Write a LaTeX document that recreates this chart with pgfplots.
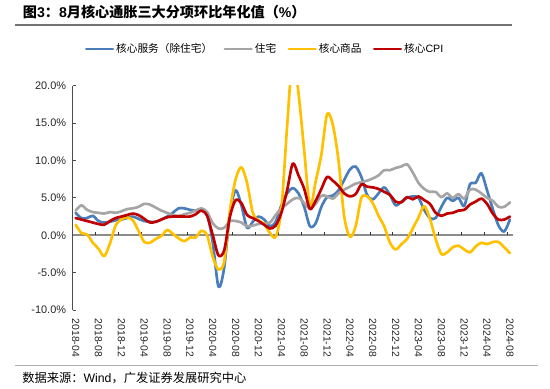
\documentclass[border=0pt]{standalone}
\usepackage{pgfplots}
\usepackage{pgfplotstable}
\pgfplotsset{compat=1.18}
\usepackage{fontspec}
\setmainfont{Liberation Sans}
\newfontfamily\cjk{Noto Sans CJK SC}

\definecolor{cblue}{HTML}{4A7EBB}
\definecolor{cgray}{HTML}{A5A5A5}
\definecolor{cyellow}{HTML}{FFC000}
\definecolor{cred}{HTML}{C00000}

\pgfplotstableread{
i serv house goods core
0 3.0 3.3 1.4 2.3
1 2.3 4.0 0.3 2.1
2 2.3 3.4 0.1 1.9
3 2.6 3.1 -1.0 1.7
4 1.9 3.0 -1.8 1.5
5 1.7 2.9 -2.8 1.4
6 1.8 3.1 -1.1 1.9
7 2.0 3.0 1.3 2.3
8 2.1 3.2 2.1 2.5
9 2.3 3.5 2.4 2.7
10 2.5 3.6 2.0 2.9
11 2.2 3.8 0.6 2.7
12 1.9 4.2 -0.9 2.2
13 1.8 4.1 -1.0 1.7
14 1.8 3.7 -0.5 1.8
15 2.1 3.3 -0.1 2.1
16 2.5 3.0 0.7 2.4
17 3.0 2.7 0.2 2.5
18 3.6 2.6 -0.4 2.5
19 3.6 2.8 -0.8 2.5
20 3.4 3.0 -0.3 2.5
21 3.3 3.3 -0.3 2.8
22 3.4 3.6 0.6 3.3
23 2.8 3.1 0.0 2.6
24 -1.0 1.6 -2.9 0.0
25 -6.9 0.9 -4.6 -2.7
26 -4.3 1.0 -3.5 -2.0
27 3.0 1.9 3.3 2.5
28 6.0 1.9 7.5 4.7
29 4.0 1.7 9.1 4.3
30 1.0 1.2 7.0 2.7
31 1.8 1.3 3.0 2.3
32 2.5 1.5 2.0 1.9
33 2.1 1.6 1.5 1.4
34 1.2 1.7 0.3 0.9
35 1.8 2.7 -0.2 1.3
36 4.0 3.6 3.5 3.0
37 5.6 4.2 14.5 6.0
38 6.3 4.8 24.0 9.6
39 5.6 5.0 19.0 8.0
40 3.8 4.3 11.3 6.2
41 1.2 3.6 3.8 3.5
42 1.6 4.2 7.2 4.6
43 3.8 5.3 10.8 6.2
44 5.1 5.2 16.2 7.8
45 5.3 4.9 14.8 7.3
46 6.0 5.6 10.0 6.6
47 7.4 6.1 2.5 5.6
48 8.8 6.5 -0.2 5.2
49 9.2 6.9 1.2 5.5
50 7.8 7.1 5.0 6.8
51 5.4 7.3 5.2 6.5
52 4.8 7.6 4.3 6.4
53 5.6 8.0 2.6 6.2
54 6.4 8.7 1.2 5.8
55 5.4 8.7 -1.0 5.4
56 4.0 9.0 -1.9 4.5
57 4.5 9.2 -1.2 4.4
58 5.0 9.5 -0.5 5.1
59 5.2 8.4 0.9 4.8
60 5.0 7.0 2.4 5.2
61 3.4 6.2 3.9 4.7
62 2.3 5.8 2.2 4.2
63 2.3 5.8 -0.5 3.0
64 3.8 5.1 -2.5 2.6
65 5.0 5.6 -2.3 2.9
66 4.6 5.0 -1.6 3.0
67 5.0 5.5 -1.4 3.3
68 3.9 4.9 -1.9 3.4
69 6.8 6.1 -2.3 4.1
70 7.0 6.1 -1.5 4.5
71 8.3 5.6 -1.0 4.9
72 6.0 5.0 -1.2 4.2
73 3.5 4.6 -0.9 2.9
74 1.3 3.8 -0.9 2.1
75 0.5 3.8 -1.6 2.1
76 2.1 4.4 -2.4 2.5
}\datatable

\begin{document}
\begin{tikzpicture}
\path[use as bounding box] (0pt,0pt) rectangle (412.5pt,291.75pt);
% title
\node[anchor=west, inner sep=0pt] at (17pt,283pt) {\fontsize{10.6pt}{12pt}\selectfont\bfseries{\cjk 图}3{\cjk ：}8{\cjk 月核心通胀三大分项环比年化值（}\%{\cjk ）}};
\draw[line width=0.9pt, black!55] (11.25pt,273pt) -- (384pt,273pt);
\draw[line width=0.5pt, black!30] (11.25pt,18pt) -- (403.5pt,18pt);
\node[anchor=west, inner sep=0pt] at (16.5pt,8.25pt) {\fontsize{9.2pt}{11pt}\selectfont{\cjk 数据来源：}Wind{\cjk ，广发证券发展研究中心}};

\begin{axis}[
  at={(54.6pt,59.25pt)}, anchor=south west,
  scale only axis, width=330pt, height=168.2pt,
  xmin=-0.5, xmax=76.5, ymin=-10, ymax=20,
  axis lines*=left,
  axis line style={-},
  x axis line style={draw=none},
  y axis line style={draw=black!70, line width=0.6pt},
  xtick={0,4,...,76},
  xticklabels={2018-04,2018-08,2018-12,2019-04,2019-08,2019-12,2020-04,2020-08,2020-12,2021-04,2021-08,2021-12,2022-04,2022-08,2022-12,2023-04,2023-08,2023-12,2024-04,2024-08},
  x tick style={draw=none},
  xticklabel shift=3pt,
  xticklabel style={rotate=-90, anchor=west, font=\fontsize{7.8pt}{9pt}\selectfont, text=black!85},
  ytick={-10,-5,0,5,10,15,20},
  yticklabels={-10.0\%,-5.0\%,0.0\%,5.0\%,10.0\%,15.0\%,20.0\%},
  yticklabel shift=1.5pt,
  yticklabel style={font=\fontsize{8.2pt}{9pt}\selectfont, text=black!85},
  y tick style={draw=black!70, line width=0.6pt},
  tick align=inside,
  major tick length=2.5pt,
  clip=true,
  legend columns=4,
  legend style={at={(0.437,1.1636)}, anchor=center, draw=none, fill=none,
    font=\fontsize{8pt}{9pt}\selectfont, column sep=0pt,
    nodes={inner xsep=1.5pt},
    /tikz/every even column/.append style={column sep=7pt}},
  legend image code/.code={\draw[#1] (0pt,0pt) -- (20pt,0pt);},
  every axis plot/.append style={line width=2pt, smooth, tension=0.5, line join=round, line cap=round},
]
\draw[line width=1.4pt, black!45] (axis cs:-0.5,0) -- (axis cs:76.5,0);
\pgfplotsinvokeforeach{3.5,7.5,...,75.5}{\draw[line width=0.6pt, black!80] (axis cs:#1,0) -- ++(0pt,2.5pt);}
\addplot[cblue] table[x=i, y=serv] {\datatable};
\addlegendentry{{\cjk 核心服务（除住宅）}}
\addplot[cgray] table[x=i, y=house] {\datatable};
\addlegendentry{{\cjk 住宅}}
\addplot[cyellow] table[x=i, y=goods] {\datatable};
\addlegendentry{{\cjk 核心商品}}
\addplot[cred] table[x=i, y=core] {\datatable};
\addlegendentry{{\cjk 核心}CPI}
\end{axis}
\end{tikzpicture}
\end{document}
